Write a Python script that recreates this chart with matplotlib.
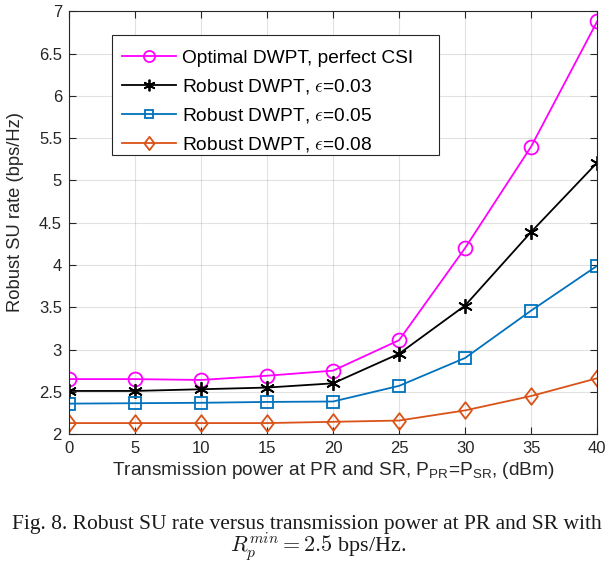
import matplotlib
matplotlib.use("Agg")
import matplotlib.pyplot as plt
from matplotlib.font_manager import FontProperties
from matplotlib.patches import Rectangle
from matplotlib.path import Path

plt.rcParams['font.family'] = ['Liberation Sans', 'DejaVu Sans']
plt.rcParams['mathtext.fontset'] = 'custom'
plt.rcParams['mathtext.rm'] = 'Liberation Sans'
plt.rcParams['mathtext.it'] = 'Liberation Sans:italic'
plt.rcParams['mathtext.bf'] = 'Liberation Sans:bold'

power = [0, 5, 10, 15, 20, 25, 30, 35, 40]
optimal = [2.65, 2.65, 2.64, 2.69, 2.75, 3.11, 4.20, 5.40, 6.88]
robust_003 = [2.51, 2.51, 2.53, 2.55, 2.60, 2.95, 3.52, 4.39, 5.21]
robust_005 = [2.36, 2.365, 2.37, 2.38, 2.385, 2.57, 2.90, 3.46, 3.99]
robust_008 = [2.13, 2.13, 2.13, 2.13, 2.145, 2.16, 2.28, 2.45, 2.66]

labels = ['Optimal DWPT, perfect CSI',
          r'Robust DWPT, $\epsilon$=0.03',
          r'Robust DWPT, $\epsilon$=0.05',
          r'Robust DWPT, $\epsilon$=0.08']
xticks = [0, 5, 10, 15, 20, 25, 30, 35, 40]
yticks = [2, 2.5, 3, 3.5, 4, 4.5, 5, 5.5, 6, 6.5, 7]

DARK = (0.15, 0.15, 0.15)
diamond = Path([(0, 1), (0.76, 0), (0, -1), (-0.76, 0), (0, 1)],
               [Path.MOVETO, Path.LINETO, Path.LINETO, Path.LINETO, Path.CLOSEPOLY])

fig = plt.figure(figsize=(6.15, 5.63), dpi=100)
ax = fig.add_axes([0.112, 0.229, 0.859, 0.751])

kw = dict(mfc='none', mew=1.3, lw=1.3)
ax.plot(power, optimal, color=(1, 0, 1), marker='o', ms=10, label=labels[0], **kw)
ax.plot(power, robust_003, color='black', marker=(6, 2, 0), ms=10.5, label=labels[1], **kw)
ax.plot(power, robust_005, color='#0072BD', marker='s', ms=8, label=labels[2], **kw)
ax.plot(power, robust_008, color='#D95319', marker=diamond, ms=12, label=labels[3], **kw)

ax.set_xlim(0, 40)
ax.set_ylim(2, 7)
ax.set_xticks(xticks)
ax.set_yticks(yticks)
ax.set_yticklabels([('%g' % v) for v in yticks])
ax.grid(True, color=DARK, alpha=0.13, lw=0.8)
ax.set_axisbelow(True)
ax.tick_params(direction='in', length=5, width=0.8, labelsize=12, colors=DARK,
               top=True, right=True, pad=5)
for s in ax.spines.values():
    s.set_color(DARK)
    s.set_linewidth(0.8)

ax.set_xlabel(r'Transmission power at PR and SR, P$_{\mathrm{PR}}$=P$_{\mathrm{SR}}$, (dBm)',
              fontsize=13.8, color=DARK, labelpad=3)
ax.set_ylabel('Robust SU rate (bps/Hz)', fontsize=13.2, color=DARK)
ax.yaxis.set_label_coords(-0.085, 0.525)

# legend frame (MATLAB style, with extra right padding)
fx0, fx1 = (112 - 69) / 528, (439 - 69) / 528
fy0, fy1 = (434 - 155) / 423, (434 - 35) / 423
ax.add_patch(Rectangle((fx0, fy0), fx1 - fx0, fy1 - fy0, transform=ax.transAxes,
                       facecolor='white', edgecolor=DARK, lw=0.8, zorder=4))

lp = FontProperties(family='Liberation Sans', size=13.8, math_fontfamily='cm')
leg = ax.legend(loc='upper left', bbox_to_anchor=(fx0, fy1 - 4 / 423), prop=lp, frameon=False,
                handlelength=2.8, handletextpad=0.31, borderpad=0.55, labelspacing=0.52,
                borderaxespad=0, markerscale=0.8)
leg.set_zorder(5)

fig.text(0.02, 0.068, 'Fig. 8. Robust SU rate versus transmission power at PR and SR with',
         fontsize=15.5, family='Liberation Serif', ha='left', va='center', color='#1a1a1a')
fig.text(0.518, 0.028, r'$R_p^{min} = 2.5$ bps/Hz.', fontsize=15.9, family='Liberation Serif',
         ha='center', va='center', color='#1a1a1a', math_fontfamily='cm')

fig.savefig('out.png', dpi=100)
